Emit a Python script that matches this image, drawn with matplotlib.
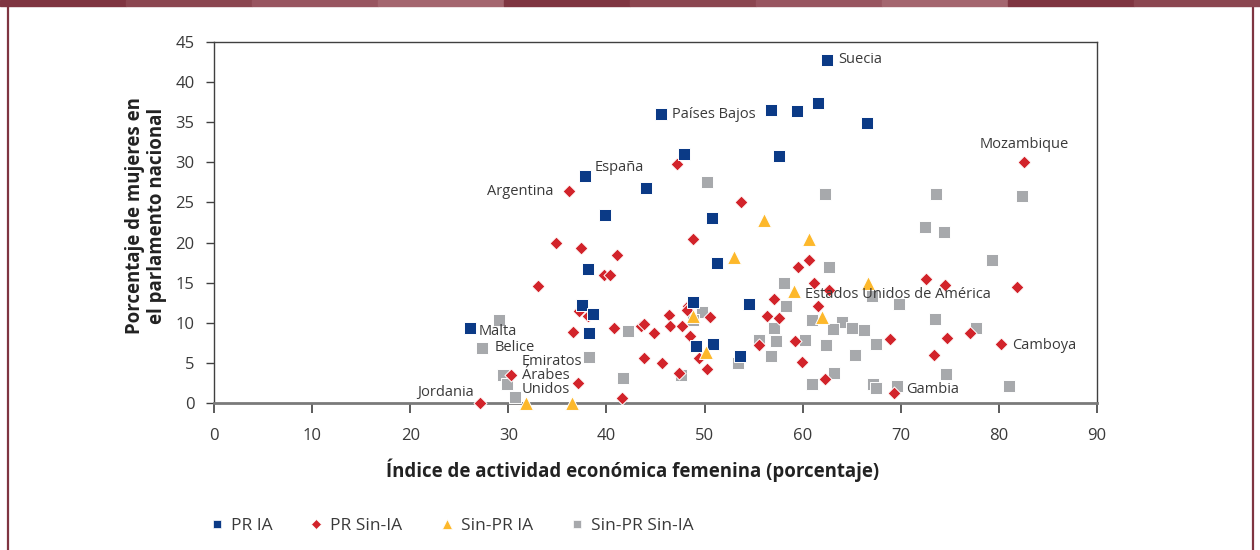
import matplotlib
matplotlib.use("Agg")
import matplotlib.pyplot as plt
from matplotlib.patches import Rectangle
from matplotlib.lines import Line2D

plt.rcParams['font.family'] = ['Open Sans', 'DejaVu Sans']

# ---------------- data ----------------
pr_ia_x = [62.5, 45.6, 56.8, 59.4, 61.6, 66.6, 47.9, 57.6, 37.8, 44.0, 39.9, 50.8,
           51.3, 38.1, 37.5, 38.6, 38.2, 26.1, 48.8, 54.5, 49.1, 50.9, 53.6]
pr_ia_y = [42.8, 36.0, 36.5, 36.4, 37.4, 34.9, 31.0, 30.8, 28.3, 26.8, 23.4, 23.0,
           17.4, 16.7, 12.2, 11.1, 8.7, 9.3, 12.6, 12.3, 7.15, 7.35, 5.9]

pr_sin_x = [36.2, 47.2, 53.7, 82.6, 48.8, 41.1, 34.9, 37.4, 39.8, 40.4, 33.0, 59.5,
            60.6, 61.2, 62.7, 57.1, 61.6, 72.6, 74.5, 81.8, 37.2, 38.1, 36.6, 30.3,
            27.1, 37.1, 41.6, 40.8, 43.5, 43.8, 44.8, 46.4, 46.5, 47.7, 48.5, 48.3,
            48.2, 50.6, 49.4, 50.3, 43.8, 45.7, 47.4, 56.4, 57.6, 55.6, 59.2, 68.9,
            74.7, 77.1, 73.4, 80.2, 59.9, 62.3, 69.3]
pr_sin_y = [26.4, 29.8, 25.0, 30.0, 20.5, 18.5, 19.95, 19.3, 15.9, 16.0, 14.6, 17.0,
            17.8, 15.0, 14.1, 13.0, 12.1, 15.4, 14.7, 14.4, 11.5, 10.8, 8.8, 3.5,
            0.05, 2.45, 0.65, 9.4, 9.65, 9.9, 8.7, 11.0, 9.55, 9.6, 8.3, 12.1,
            11.6, 10.7, 5.6, 4.2, 5.65, 4.95, 3.8, 10.8, 10.55, 7.2, 7.7, 8.0,
            8.1, 8.7, 6.0, 7.35, 5.1, 3.0, 1.2]

sinpr_ia_x = [56.1, 60.6, 53.0, 59.1, 66.7, 62.0, 48.8, 50.1, 31.8, 36.5]
sinpr_ia_y = [22.8, 20.4, 18.25, 13.9, 14.9, 10.7, 10.85, 6.4, 0.0, 0.0]

sinpr_sin_x = [50.2, 62.3, 73.6, 82.4, 72.5, 74.4, 79.3, 62.7, 58.1, 67.1, 58.3, 69.8,
               49.7, 48.8, 61.0, 64.0, 63.1, 65.0, 66.3, 73.5, 77.7, 57.1, 55.5, 57.3,
               60.2, 62.4, 67.5, 56.8, 65.3, 53.4, 63.2, 61.0, 67.2, 67.5, 69.6, 74.6,
               81.0, 29.0, 27.3, 38.2, 29.5, 29.9, 30.7, 42.2, 41.7, 47.6]
sinpr_sin_y = [27.6, 26.0, 26.1, 25.8, 21.9, 21.3, 17.8, 17.0, 15.0, 13.3, 12.05, 12.3,
               11.35, 10.35, 10.4, 10.15, 9.2, 9.35, 9.1, 10.5, 9.4, 9.35, 7.85, 7.7,
               7.9, 7.2, 7.4, 5.85, 6.0, 5.0, 3.8, 2.4, 2.4, 1.9, 2.1, 3.6,
               2.1, 10.4, 6.9, 5.7, 3.5, 2.4, 0.8, 9.0, 3.15, 3.45]

series_names = ["PR IA", "PR Sin-IA", "Sin-PR IA", "Sin-PR Sin-IA"]

label_names = ["Suecia", "Países Bajos", "España", "Argentina", "Mozambique", "Malta",
               "Belice", "Emiratos\nÁrabes\nUnidos", "Jordania",
               "Estados Unidos de América", "Camboya", "Gambia"]
label_x = [62.5, 45.6, 37.8, 36.2, 82.6, 26.1, 27.3, 31.8, 27.1, 59.1, 80.2, 69.3]
label_y = [42.8, 36.0, 28.3, 26.4, 30.0, 9.3, 6.9, 0.0, 0.05, 13.9, 7.35, 1.2]

x_ticks = list(range(0, 91, 10))
y_ticks = list(range(0, 46, 5))

# ---------------- styling ----------------
C_BLUE = "#0b3a86"
C_RED = "#d2232a"
C_YEL = "#fdb82b"
C_GRAY = "#a7a9ac"
C_TEXT = "#3a3a3a"
FRAME = "#7f3541"

fig = plt.figure(figsize=(12.6, 5.5), dpi=100)
ax = fig.add_axes([214/1260, 1-403/550, (1097-214)/1260, (403-42)/550])

common = dict(clip_on=False, zorder=5, linewidths=0.7, edgecolors="white")
ax.scatter(sinpr_sin_x, sinpr_sin_y, marker="s", s=66, c=C_GRAY, **common)
ax.scatter(pr_sin_x, pr_sin_y, marker="D", s=44, c=C_RED, **common)
ax.scatter(pr_ia_x, pr_ia_y, marker="s", s=66, c=C_BLUE, **common)
ax.scatter(sinpr_ia_x, sinpr_ia_y, marker="^", s=100, c=C_YEL, **common)

ax.set_xlim(0, 90)
ax.set_ylim(0, 45)
ax.set_xticks(x_ticks)
ax.set_yticks(y_ticks)
ax.tick_params(axis="both", direction="out", colors="#404040", labelsize=12,
               labelcolor=C_TEXT)
ax.tick_params(axis="x", length=7, width=1.2, pad=11)
ax.tick_params(axis="y", length=6, width=1.0, pad=8)
for side in ["top", "right", "left"]:
    ax.spines[side].set_color("#404040")
    ax.spines[side].set_linewidth(1.0)
ax.spines["bottom"].set_color("#7a7a7a")
ax.spines["bottom"].set_linewidth(2.0)

ax.set_xlabel("Índice de actividad económica femenina (porcentaje)",
              fontsize=13.4, fontweight="bold", color="#222222")
ax.xaxis.set_label_coords((633-214)/883, -(458-403)/361)
ax.set_ylabel("Porcentaje de mujeres en\nel parlamento nacional",
              fontsize=13.4, fontweight="bold", color="#222222",
              linespacing=1.15)
ax.yaxis.set_label_coords(-(214-167)/883, (403-216)/361)

# annotations (offsets in points)
offsets = [(8, 0, "left"), (8, 0, "left"), (7, 6, "left"), (-11, 0, "right"),
           (0, 13, "center"), (6, -2, "left"), (9, 0, "left"), (-3, 20, "left"),
           (-4, 7, "right"), (8, -2, "left"), (8, -1, "left"), (9, 3, "left")]
for name, lx, ly, (dx, dy, ha) in zip(label_names, label_x, label_y, offsets):
    ax.annotate(name, (lx, ly), xytext=(dx, dy), textcoords="offset points",
                ha=ha, va="center", fontsize=10.5, color=C_TEXT, linespacing=0.9,
                zorder=6, annotation_clip=False)

# legend
handles = [
    Line2D([], [], ls="none", marker="s", ms=6, color=C_BLUE, mec="white", mew=0.5),
    Line2D([], [], ls="none", marker="D", ms=5.5, color=C_RED, mec="white", mew=0.5),
    Line2D([], [], ls="none", marker="^", ms=7.5, color=C_YEL, mec="white", mew=0.5),
    Line2D([], [], ls="none", marker="s", ms=6, color=C_GRAY, mec="white", mew=0.5),
]
leg = fig.legend(handles, series_names, loc="center left", ncol=4,
                 bbox_to_anchor=(201/1260, 1-526/550), frameon=False,
                 fontsize=12.5, handlelength=1.0, handletextpad=0.3,
                 columnspacing=2.05, borderaxespad=0)
for t in leg.get_texts():
    t.set_color(C_TEXT)

# decorative frame
stripe_cols = ["#7f3541", "#8b4650", "#985560", "#a4666f"] * 3
seg_w = 1260 / 10
for i in range(10):
    fig.patches.append(Rectangle((i*seg_w/1260, 1-6/550), seg_w/1260, 6/550,
                                 transform=fig.transFigure, color=stripe_cols[i],
                                 zorder=10))
fig.add_artist(Line2D([8/1260, 8/1260], [0, 1], transform=fig.transFigure,
                      color=FRAME, lw=1.6))
fig.add_artist(Line2D([1253/1260, 1253/1260], [0, 1], transform=fig.transFigure,
                      color=FRAME, lw=1.6))

fig.savefig("out.png", dpi=100)
